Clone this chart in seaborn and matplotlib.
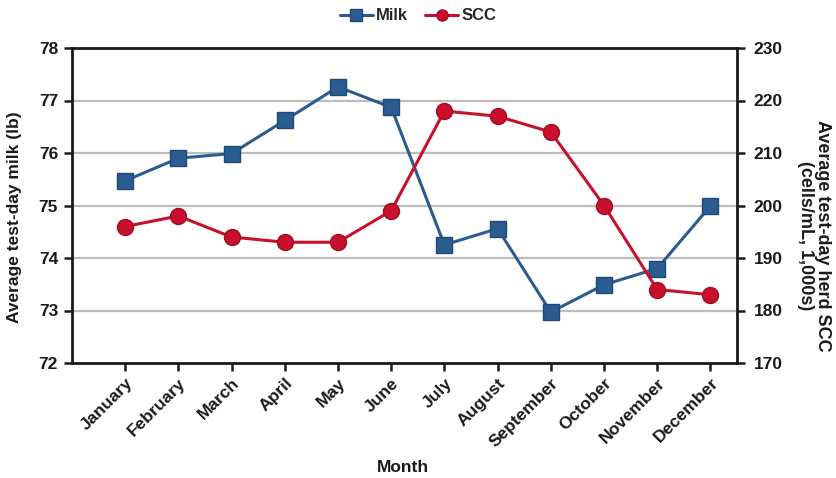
import matplotlib
matplotlib.use("Agg")
import matplotlib.pyplot as plt
import seaborn as sns
import pandas as pd
from matplotlib.lines import Line2D

months = ["January", "February", "March", "April", "May", "June",
          "July", "August", "September", "October", "November", "December"]
milk = [75.47, 75.90, 75.99, 76.62, 77.26, 76.87,
        74.25, 74.56, 72.97, 73.49, 73.80, 74.99]
scc = [196, 198, 194, 193, 193, 199, 218, 217, 214, 200, 184, 183]

milk_ticks = [72, 73, 74, 75, 76, 77, 78]
scc_ticks = [170, 180, 190, 200, 210, 220, 230]

MILK_COLOR = "#2B5C8F"
MILK_EDGE = "#1F4A78"
SCC_COLOR = "#C8102E"
SCC_EDGE = "#A00D20"
INK = "#1a1a1a"

sns.set_theme(style="white")
plt.rcParams["font.family"] = ["Liberation Sans", "DejaVu Sans"]
plt.rcParams["font.weight"] = "bold"

df = pd.DataFrame({"month": months, "idx": range(len(months)),
                   "milk": milk, "scc": scc})

fig = plt.figure(figsize=(8.36, 4.78), dpi=100)
ax = fig.add_axes([72 / 836, 1 - 363 / 478, (737 - 72) / 836, (363 - 48) / 478])
ax2 = ax.twinx()

# horizontal gridlines shared by both scales
for t in milk_ticks[1:-1]:
    ax.axhline(t, color="#BDBDBD", lw=1.6, zorder=0)

sns.lineplot(data=df, x="idx", y="milk", ax=ax, color=MILK_COLOR, lw=2.2,
             marker="s", markersize=11, markerfacecolor=MILK_COLOR,
             markeredgecolor=MILK_EDGE, markeredgewidth=1.0, zorder=3)
sns.lineplot(data=df, x="idx", y="scc", ax=ax2, color=SCC_COLOR, lw=2.2,
             marker="o", markersize=11.5, markerfacecolor=SCC_COLOR,
             markeredgecolor=SCC_EDGE, markeredgewidth=1.0, zorder=3)

ax.set_xlim(-1, 11.5)
ax.set_ylim(milk_ticks[0], milk_ticks[-1])
ax2.set_ylim(scc_ticks[0], scc_ticks[-1])
ax.set_yticks(milk_ticks)
ax2.set_yticks(scc_ticks)
ax.set_xticks(range(len(months)))
ax.set_xticklabels(months, rotation=45, ha="right", rotation_mode="anchor",
                   fontsize=12.5, fontweight="bold")
ax.set_yticklabels([str(t) for t in milk_ticks], fontsize=12.5, fontweight="bold")
ax2.set_yticklabels([str(t) for t in scc_ticks], fontsize=12.5, fontweight="bold")

for a in (ax, ax2):
    for side in ("top", "right", "left", "bottom"):
        a.spines[side].set_visible(False)
ax.spines["left"].set_visible(True)
ax.spines["bottom"].set_visible(True)
ax2.spines["right"].set_visible(True)
ax.spines["top"].set_visible(True)
for s in (ax.spines["left"], ax.spines["bottom"], ax.spines["top"], ax2.spines["right"]):
    s.set_color(INK)
    s.set_linewidth(2.0)

ax.tick_params(axis="y", direction="out", length=6, width=1.8, color=INK,
               left=True, pad=4, labelcolor=INK)
ax.tick_params(axis="x", direction="out", length=6, width=1.8, color=INK,
               bottom=True, pad=3, labelcolor=INK)
ax2.tick_params(axis="y", direction="out", length=6, width=1.8, color=INK,
                right=True, pad=6, labelcolor=INK)

ax.set_xlabel("")
ax.set_ylabel("")
ax2.set_ylabel("")
fig.text(15 / 836, 1 - 217 / 478, "Average test-day milk (lb)", rotation=90,
         ha="center", va="center", fontsize=12.5, fontweight="bold", color=INK)
fig.text(814 / 836, 1 - 236 / 478, "Average test-day herd SCC\n(cells/mL, 1,000s)",
         rotation=270, ha="center", va="center", fontsize=13, fontweight="bold",
         color=INK, linespacing=1.0, multialignment="center")
fig.text(403 / 836, 1 - 467 / 478, "Month", ha="center", va="center",
         fontsize=12.5, fontweight="bold", color=INK)

handles = [
    Line2D([], [], color=MILK_COLOR, lw=2.2, marker="s", markersize=8,
           markeredgecolor=MILK_EDGE),
    Line2D([], [], color=SCC_COLOR, lw=2.2, marker="o", markersize=8,
           markeredgecolor=SCC_EDGE),
]
fig.legend(handles, ["Milk", "SCC"], loc="center", bbox_to_anchor=(418 / 836, 1 - 16 / 478),
           ncol=2, frameon=False, handlelength=2.0, handletextpad=0.2,
           columnspacing=1.0, prop={"weight": "bold", "size": 12})

fig.savefig("out.png", dpi=100)
